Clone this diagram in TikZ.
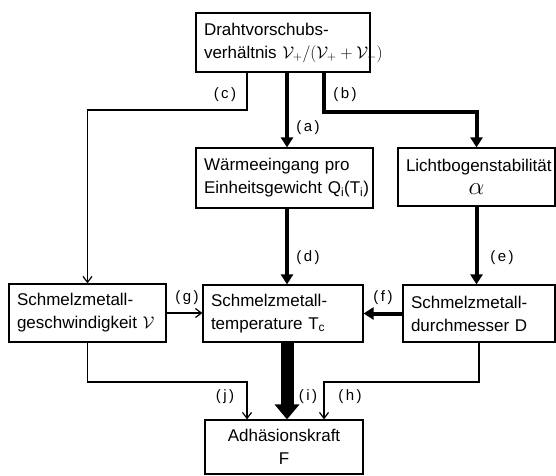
\documentclass[tikz,border=0pt]{standalone}
\usepackage{fix-cm}
\usepackage{fontspec}
\setmainfont{Liberation Sans}
\usetikzlibrary{arrows.meta}

\tikzset{
  box/.style={draw, line width=1.2pt, inner xsep=8pt, inner ysep=0pt, align=left,
    font=\fontsize{17}{23}\selectfont},
  flow/.style={line width=1.2pt, -{Straight Barb[length=6pt,width=9pt]}},
  heavy/.style={line width=4pt, -{Triangle[length=10pt,width=12pt]}},
  main/.style={line width=13pt, -{Triangle[length=15pt,width=24pt]}},
  lbl/.style={font=\fontsize{15}{15}\selectfont, inner sep=0pt}
}

\begin{document}
\begin{tikzpicture}[x=1pt,y=-1pt]
      \useasboundingbox (0,0) rectangle (556,475);
      \coordinate (mid) at (287,0);

      % boxes
      \node[box, text width=158pt, minimum height=59pt] (draht) at (283,42.5)
        {Drahtvorschubs-\\\mbox{verhältnis $\mathcal{V}_{+}/(\mathcal{V}_{+}+\mathcal{V}_{-})$}};
      \node[box, text width=161pt, minimum height=60pt] (waerme) at (284.5,178)
        {Wärmeeingang pro\\\mbox{Einheitsgewicht Q\textsubscript{i}(T\textsubscript{i})}};
      \node[box, align=center, text width=141pt, minimum height=58pt] (licht) at (476.5,177)
        {\mbox{Lichtbogenstabilität}\\{\fontsize{25}{23}\selectfont$\alpha$}};
      \node[box, text width=141pt, minimum height=58pt] (speed) at (87.5,313)
        {Schmelzmetall-\\geschwindigkeit $\mathcal{V}$};
      \node[box, text width=144pt, minimum height=57pt] (temp) at (283,313.5)
        {Schmelzmetall-\\temperature T\textsubscript{c}};
      \node[box, text width=136pt, minimum height=57pt] (diam) at (479,313.5)
        {Schmelzmetall-\\durchmesser D};
      \node[box, align=center, text width=142pt, minimum height=54pt] (force) at (284,447)
        {Adhäsionskraft\\F};

      % connectors
      \draw[flow] (draht.south -| 247,0) -- (247,110) -| (speed.north);
      \draw[heavy] (draht.south -| mid) -- (waerme.north -| mid);
      \draw[heavy] (draht.south -| 324,0) -- (324,112) -| (licht.north);
      \draw[heavy] (waerme.south -| mid) -- (temp.north -| mid);
      \draw[heavy] (licht.south) -- (licht.south |- diam.north);
      \draw[heavy] (diam.west) -- (temp.east);
      \draw[flow] (speed.east) -- (speed.east -| temp.west);
      \draw[main] (temp.south -| mid) -- (force.north -| mid);
      \draw[flow] (speed.south) -- (speed.south |- 0,382) -| (force.north -| 247,0);
      \draw[flow] (diam.south) -- (diam.south |- 0,382) -| (force.north -| 324,0);

      % labels
      \node[lbl] (lc) at (225,95) {(\,c\,)};
      \node[lbl] (lb) at (345,95) {(\,b\,)};
      \node[lbl] (la) at (308,128) {(\,a\,)};
      \node[lbl] (ld) at (308,258) {(\,d\,)};
      \node[lbl] (le) at (502,258) {(\,e\,)};
      \node[lbl] (lg) at (187,298) {(\,g\,)};
      \node[lbl] (lf) at (383,298) {(\,f\,)};
      \node[lbl] (lj) at (225,397) {(\,j\,)};
      \node[lbl] (li) at (308,397) {(\,i\,)};
      \node[lbl] (lh) at (350,397) {(\,h\,)};

    \end{tikzpicture}
\end{document}
